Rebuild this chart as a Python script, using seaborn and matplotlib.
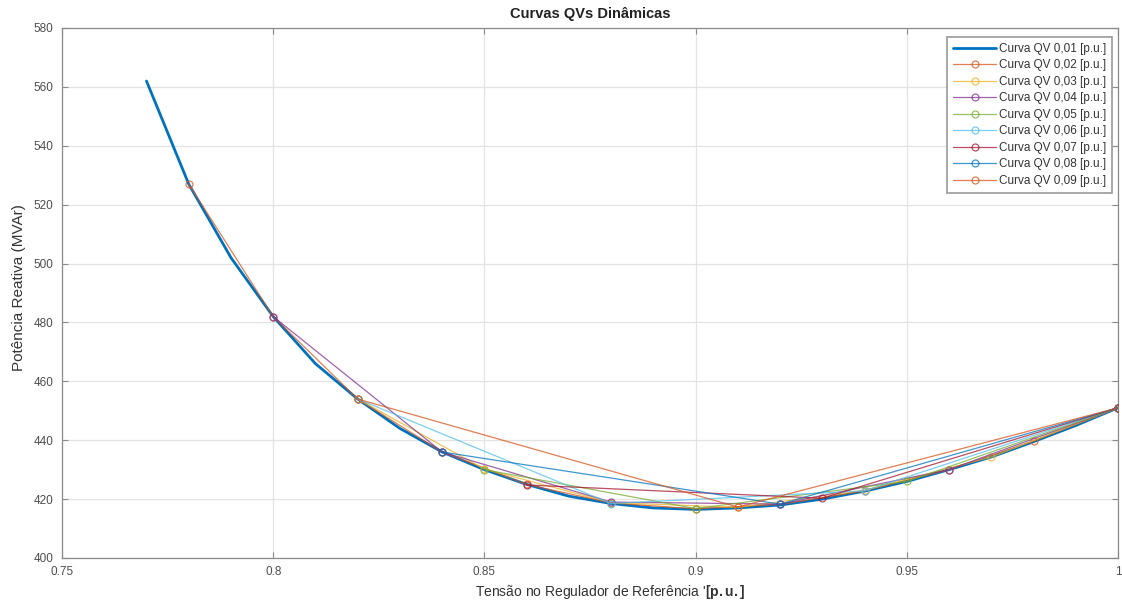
import matplotlib
matplotlib.use("Agg")
import matplotlib.pyplot as plt
import seaborn as sns
import pandas as pd

# Dynamic QV curves: reactive power (MVAr) versus reference voltage (p.u.)
v_001 = [0.77, 0.78, 0.79, 0.80, 0.81, 0.82, 0.83, 0.84, 0.85, 0.86, 0.87, 0.88,
         0.89, 0.90, 0.91, 0.92, 0.93, 0.94, 0.95, 0.96, 0.97, 0.98, 0.99, 1.00]
q_001 = [562.0, 527.0, 502.0, 482.0, 466.0, 454.0, 444.0, 436.0, 430.0, 425.0, 421.0, 418.5,
         417.0, 416.5, 417.0, 418.0, 420.0, 422.7, 426.0, 430.0, 434.3, 439.5, 445.0, 451.0]

v_002 = [0.78, 0.80, 0.82, 0.84, 0.86, 0.88, 0.90, 0.92, 0.94, 0.96, 0.98, 1.00]
q_002 = [527.0, 482.0, 454.0, 436.0, 425.0, 418.7, 416.7, 418.2, 422.8, 430.0, 439.7, 451.0]

v_003 = [0.82, 0.85, 0.88, 0.91, 0.94, 0.97, 1.00]
q_003 = [454.0, 430.2, 418.8, 417.2, 423.0, 434.3, 451.0]

v_004 = [0.80, 0.84, 0.88, 0.92, 0.96, 1.00]
q_004 = [482.0, 436.0, 419.0, 418.3, 430.0, 451.0]

v_005 = [0.85, 0.90, 0.95, 1.00]
q_005 = [430.0, 416.8, 426.0, 451.0]

v_006 = [0.82, 0.88, 0.94, 1.00]
q_006 = [454.0, 418.5, 422.8, 451.0]

v_007 = [0.86, 0.93, 1.00]
q_007 = [424.8, 420.3, 451.0]

v_008 = [0.84, 0.92, 1.00]
q_008 = [436.0, 418.3, 451.0]

v_009 = [0.82, 0.91, 1.00]
q_009 = [454.0, 417.3, 451.0]

labels = ["Curva QV 0,01 [p.u.]", "Curva QV 0,02 [p.u.]", "Curva QV 0,03 [p.u.]",
          "Curva QV 0,04 [p.u.]", "Curva QV 0,05 [p.u.]", "Curva QV 0,06 [p.u.]",
          "Curva QV 0,07 [p.u.]", "Curva QV 0,08 [p.u.]", "Curva QV 0,09 [p.u.]"]

x_ticks = [0.75, 0.80, 0.85, 0.90, 0.95, 1.00]
x_ticklabels = ["0.75", "0.8", "0.85", "0.9", "0.95", "1"]
y_ticks = [400, 420, 440, 460, 480, 500, 520, 540, 560, 580]

colors = ["#0072BD", "#D95319", "#EDB120", "#7E2F8E", "#77AC30",
          "#4DBEEE", "#A2142F", "#0072BD", "#D95319"]

sns.set_theme(style="ticks")
plt.rcParams["font.family"] = ["Liberation Sans", "DejaVu Sans"]
plt.rcParams["mathtext.fontset"] = "custom"
plt.rcParams["mathtext.bf"] = "Liberation Sans:bold"

fig = plt.figure(figsize=(11.22, 6.05), dpi=100)
ax = fig.add_axes([62 / 1122, 1 - 558 / 605, (1118 - 62) / 1122, (558 - 28) / 605])

series = [(v_001, q_001), (v_002, q_002), (v_003, q_003), (v_004, q_004), (v_005, q_005),
          (v_006, q_006), (v_007, q_007), (v_008, q_008), (v_009, q_009)]

for i, ((vx, qy), lab, col) in enumerate(zip(series, labels, colors)):
    df = pd.DataFrame({"v": vx, "q": qy})
    if i == 0:
        sns.lineplot(data=df, x="v", y="q", ax=ax, color=col, linewidth=2.0,
                     label=lab, zorder=3)
    else:
        sns.lineplot(data=df, x="v", y="q", ax=ax, color=col, linewidth=0.9,
                     marker="o", markersize=5, markerfacecolor="none",
                     markeredgecolor=col, markeredgewidth=0.9, alpha=0.75,
                     label=lab, zorder=4)

ax.set_xlim(0.75, 1.0)
ax.set_ylim(400, 580)
ax.set_xticks(x_ticks)
ax.set_xticklabels(x_ticklabels)
ax.set_yticks(y_ticks)

ax.grid(True, color="#e3e3e3", linewidth=0.9)
ax.set_axisbelow(True)
for s in ax.spines.values():
    s.set_color("#8a8a8a")
    s.set_linewidth(0.9)
    s.set_visible(True)
ax.tick_params(direction="in", length=4, width=0.8, color="#8a8a8a",
               labelsize=8.5, labelcolor="#4d4d4d", top=True, right=True, pad=6)

ax.set_title("Curvas QVs Dinâmicas", fontsize=10.5, fontweight="bold",
             color="#222222", pad=7)
ax.set_xlabel("Tensão no Regulador de Referência '$\\mathbf{[p.u.]}$",
              fontsize=10, color="#333333")
ax.set_ylabel("Potência Reativa (MVAr)", fontsize=11, color="#333333")
ax.xaxis.set_label_coords(0.519, -0.064, transform=ax.transAxes)
ax.xaxis.label.set_verticalalignment("center")
ax.yaxis.set_label_coords(-0.041, 0.511, transform=ax.transAxes)
ax.yaxis.label.set_verticalalignment("center")

leg = ax.legend(loc="upper right", bbox_to_anchor=(0.9943, 0.983), fontsize=8.5,
                frameon=True, fancybox=False, edgecolor="#9a9a9a", framealpha=1.0,
                handlelength=3.7, handletextpad=0.2, labelspacing=0.38,
                borderpad=0.5, borderaxespad=0.0)
leg.get_frame().set_linewidth(1.2)
for t in leg.get_texts():
    t.set_color("#333333")

fig.savefig("out.png", dpi=100, facecolor="white")
